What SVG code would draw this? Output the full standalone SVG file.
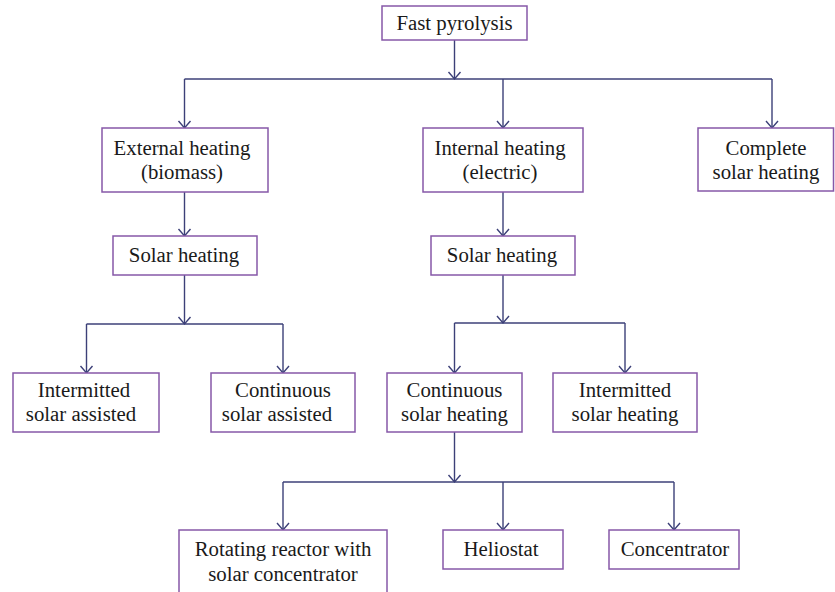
<svg xmlns="http://www.w3.org/2000/svg" width="835" height="592" viewBox="0 0 835 592">
<style>
.box{fill:#fff;stroke:#8658a8;stroke-width:1.5}
.t{font-family:"Liberation Serif","Times New Roman",serif;font-size:20.8px;fill:#1a1a1a;text-anchor:middle}
.c{fill:none;stroke:#3c4078;stroke-width:1.4}
</style>
<defs>
<marker id="ah" viewBox="-8 -8 10 16" refX="0" refY="0" markerWidth="10" markerHeight="16" markerUnits="userSpaceOnUse" orient="auto">
<path d="M-7,-6 L0,0 L-7,6" fill="none" stroke="#3c4078" stroke-width="1.4"/>
</marker>
</defs>
<g id="connectors">
<path class="c" d="M454.5,40 V79" marker-end="url(#ah)"/>
<path class="c" d="M184.5,79 H772"/>
<path class="c" d="M184.5,79 V128" marker-end="url(#ah)"/>
<path class="c" d="M503,79 V128" marker-end="url(#ah)"/>
<path class="c" d="M772,79 V128" marker-end="url(#ah)"/>
<path class="c" d="M184.5,192 V236" marker-end="url(#ah)"/>
<path class="c" d="M503,192 V236" marker-end="url(#ah)"/>
<path class="c" d="M184.5,275 V324" marker-end="url(#ah)"/>
<path class="c" d="M86.5,324 H283"/>
<path class="c" d="M86.5,324 V373" marker-end="url(#ah)"/>
<path class="c" d="M283,324 V373" marker-end="url(#ah)"/>
<path class="c" d="M503,275 V323" marker-end="url(#ah)"/>
<path class="c" d="M454.5,323 H625"/>
<path class="c" d="M454.5,323 V373" marker-end="url(#ah)"/>
<path class="c" d="M625,323 V373" marker-end="url(#ah)"/>
<path class="c" d="M454.5,432 V482" marker-end="url(#ah)"/>
<path class="c" d="M283,482 H674"/>
<path class="c" d="M283,482 V530" marker-end="url(#ah)"/>
<path class="c" d="M503,482 V530" marker-end="url(#ah)"/>
<path class="c" d="M674,482 V530" marker-end="url(#ah)"/>
</g>
<g id="fast-pyrolysis">
<rect class="box" x="382" y="6" width="145" height="34"/>
<text class="t" x="454.5" y="29.5">Fast pyrolysis</text>
</g>
<g id="external-heating">
<rect class="box" x="102" y="128" width="166" height="64"/>
<text class="t" x="182" y="155">External heating</text>
<text class="t" x="182" y="179">(biomass)</text>
</g>
<g id="internal-heating">
<rect class="box" x="423" y="128" width="160" height="64"/>
<text class="t" x="500" y="155">Internal heating</text>
<text class="t" x="500" y="179">(electric)</text>
</g>
<g id="complete-solar">
<rect class="box" x="698" y="128" width="135.5" height="63"/>
<text class="t" x="766" y="155">Complete</text>
<text class="t" x="766" y="179">solar heating</text>
</g>
<g id="solar-heating-left">
<rect class="box" x="113" y="236" width="144" height="39"/>
<text class="t" x="184" y="262">Solar heating</text>
</g>
<g id="solar-heating-mid">
<rect class="box" x="431" y="236" width="144" height="39"/>
<text class="t" x="502" y="262">Solar heating</text>
</g>
<g id="intermitted-assisted">
<rect class="box" x="13" y="373" width="146" height="59"/>
<text class="t" x="84" y="397">Intermitted</text>
<text class="t" x="81" y="421">solar assisted</text>
</g>
<g id="continuous-assisted">
<rect class="box" x="211" y="373" width="144" height="59"/>
<text class="t" x="283" y="397">Continuous</text>
<text class="t" x="277" y="421">solar assisted</text>
</g>
<g id="continuous-heating">
<rect class="box" x="387" y="373" width="135" height="59"/>
<text class="t" x="454.5" y="397">Continuous</text>
<text class="t" x="454.5" y="421">solar heating</text>
</g>
<g id="intermitted-heating">
<rect class="box" x="553" y="373" width="144" height="59"/>
<text class="t" x="625" y="397">Intermitted</text>
<text class="t" x="625" y="421">solar heating</text>
</g>
<g id="rotating-reactor">
<rect class="box" x="179" y="530" width="208" height="70"/>
<text class="t" x="283" y="556">Rotating reactor with</text>
<text class="t" x="283" y="581">solar concentrator</text>
</g>
<g id="heliostat">
<rect class="box" x="443" y="530" width="120" height="39"/>
<text class="t" x="501" y="556">Heliostat</text>
</g>
<g id="concentrator">
<rect class="box" x="609" y="530" width="130" height="39"/>
<text class="t" x="675" y="556">Concentrator</text>
</g>
</svg>
